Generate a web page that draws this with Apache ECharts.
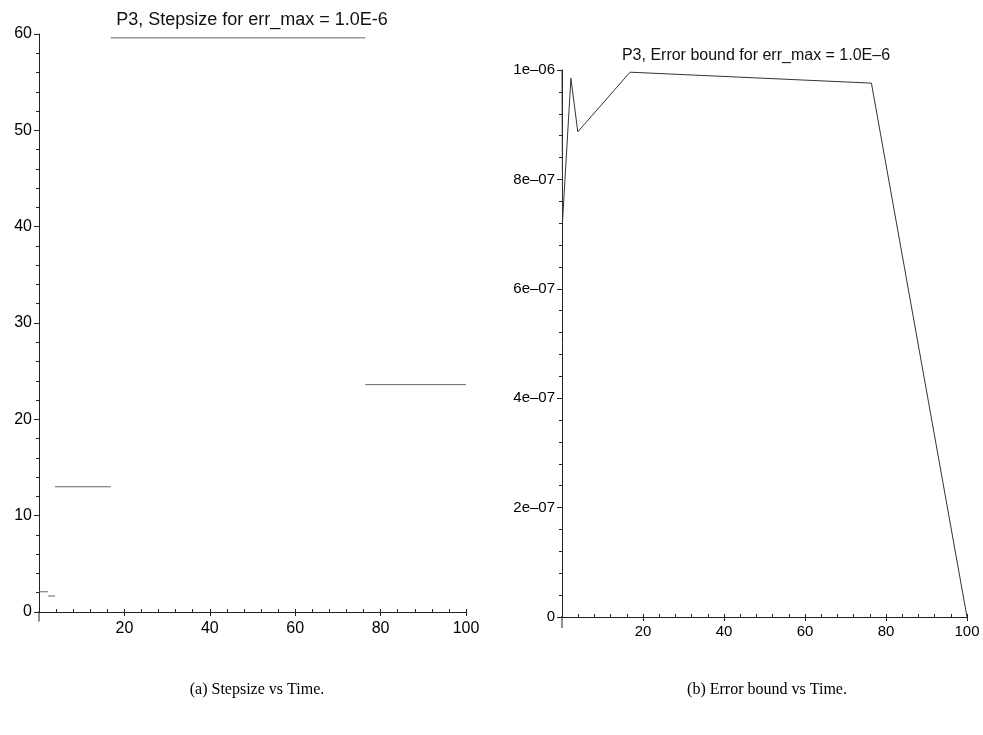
<!DOCTYPE html>
<html><head><meta charset="utf-8">
<script src="https://cdn.jsdelivr.net/npm/echarts@6/dist/echarts.min.js"></script>
<style>html,body{margin:0;padding:0;background:#fff}#c{width:983px;height:735px}</style>
</head><body><div id="c"></div>
<script>
// Left panel: step boundaries (time) and step sizes
const stepTimes = [0, 2.1, 3.75, 16.8, 76.4, 100];
const stepSizes = [2.1, 1.66, 13.0, 59.6, 23.6];
// Right panel: error bound vs time
const errTimes = [0, 0.15, 2.2, 3.9, 16.8, 76.4, 100];
const errValues = [1.0e-6, 0.726e-6, 0.985e-6, 0.887e-6, 0.996e-6, 0.976e-6, 0];
// Tick labels
const leftXTicks = [20, 40, 60, 80, 100];
const leftYTicks = [0, 10, 20, 30, 40, 50, 60];
const rightYTicks = ['0', '2e–07', '4e–07', '6e–07', '8e–07', '1e–06'];

const stepData = [];
for (let i = 0; i < stepSizes.length; i++) {
  if (i > 0) stepData.push([stepTimes[i], '-']);
  stepData.push([stepTimes[i], stepSizes[i]]);
  stepData.push([stepTimes[i + 1], stepSizes[i]]);
}
const errData = errTimes.map((t, i) => [t, errValues[i]]);

const F = 'Liberation Sans';
const axisCol = '#222';
function mainX(grid, fs, margin) {
  return {
    type: 'value', gridIndex: grid, min: 0, max: 100, interval: 20, position: 'bottom',
    axisLine: { onZero: false, lineStyle: { color: axisCol, width: 1 } },
    axisTick: { length: 4, lineStyle: { color: axisCol } },
    axisLabel: { color: '#000', fontFamily: F, fontSize: fs, margin: margin, showMinLabel: false },
    splitLine: { show: false }
  };
}
function minorX(grid) {
  return {
    type: 'value', gridIndex: grid, min: 0, max: 100, interval: 4, position: 'bottom',
    axisLine: { show: false, onZero: false },
    axisTick: { inside: true, length: 3, lineStyle: { color: axisCol } },
    axisLabel: { show: false }, splitLine: { show: false }
  };
}
const option = {
  animation: false,
  title: [
    { text: 'P3, Stepsize for err_max = 1.0E-6', left: 247, top: 6, textAlign: 'center',
      textStyle: { fontFamily: F, fontSize: 18, fontWeight: 'normal', color: '#111' } },
    { text: 'P3, Error bound for err_max = 1.0E–6', left: 751, top: 43, textAlign: 'center',
      textStyle: { fontFamily: F, fontSize: 16, fontWeight: 'normal', color: '#111' } },
    { text: '(a) Stepsize vs Time.', left: 252, top: 677, textAlign: 'center',
      textStyle: { fontFamily: 'Liberation Serif', fontSize: 16, fontWeight: 'normal', color: '#000' } },
    { text: '(b) Error bound vs Time.', left: 762, top: 677, textAlign: 'center',
      textStyle: { fontFamily: 'Liberation Serif', fontSize: 16, fontWeight: 'normal', color: '#000' } }
  ],
  grid: [
    { left: 39, top: 34, width: 427, height: 578 },
    { left: 562, top: 70, width: 405, height: 547 }
  ],
  xAxis: [mainX(0, 16, 9), minorX(0), mainX(1, 15, 7), minorX(1)],
  yAxis: [
    { type: 'value', gridIndex: 0, min: 0, max: 60, interval: 10,
      axisLine: { show: true, onZero: false, lineStyle: { color: axisCol } },
      axisTick: { show: true, length: 5, lineStyle: { color: axisCol } },
      minorTick: { show: true, splitNumber: 5, length: 3, lineStyle: { color: axisCol } },
      axisLabel: { color: '#000', fontFamily: F, fontSize: 16, margin: 7,
        formatter: v => String(leftYTicks[Math.round(v / 10)]) },
      splitLine: { show: false } },
    { type: 'value', gridIndex: 1, min: 0, max: 1e-6, interval: 2e-7,
      axisLine: { show: true, onZero: false, lineStyle: { color: axisCol } },
      axisTick: { show: true, length: 5, lineStyle: { color: axisCol } },
      minorTick: { show: true, splitNumber: 5, length: 3, lineStyle: { color: axisCol } },
      axisLabel: { color: '#000', fontFamily: F, fontSize: 15, margin: 7,
        formatter: v => rightYTicks[Math.round(v / 2e-7)] },
      splitLine: { show: false } }
  ],
  series: [
    { type: 'line', xAxisIndex: 0, yAxisIndex: 0, data: stepData, symbol: 'none', connectNulls: false,
      lineStyle: { color: '#666', width: 1 } },
    { type: 'line', xAxisIndex: 2, yAxisIndex: 1, data: errData, symbol: 'none',
      lineStyle: { color: '#333', width: 1 } },
    // axis overhangs past the origin
    { type: 'line', xAxisIndex: 0, yAxisIndex: 0, clip: false, symbol: 'none', silent: true,
      data: [[-2, 0], [0, 0], [0, '-'], [0, 0], [0, -1]], lineStyle: { color: axisCol, width: 1 } },
    { type: 'line', xAxisIndex: 2, yAxisIndex: 1, clip: false, symbol: 'none', silent: true,
      data: [[-1.7, 0], [0, 0], [0, '-'], [0, 0], [0, -0.02e-6]], lineStyle: { color: axisCol, width: 1 } }
  ]
};
const chart = echarts.init(document.getElementById('c'), null, { renderer: 'canvas' });
chart.setOption(option);
</script></body></html>
